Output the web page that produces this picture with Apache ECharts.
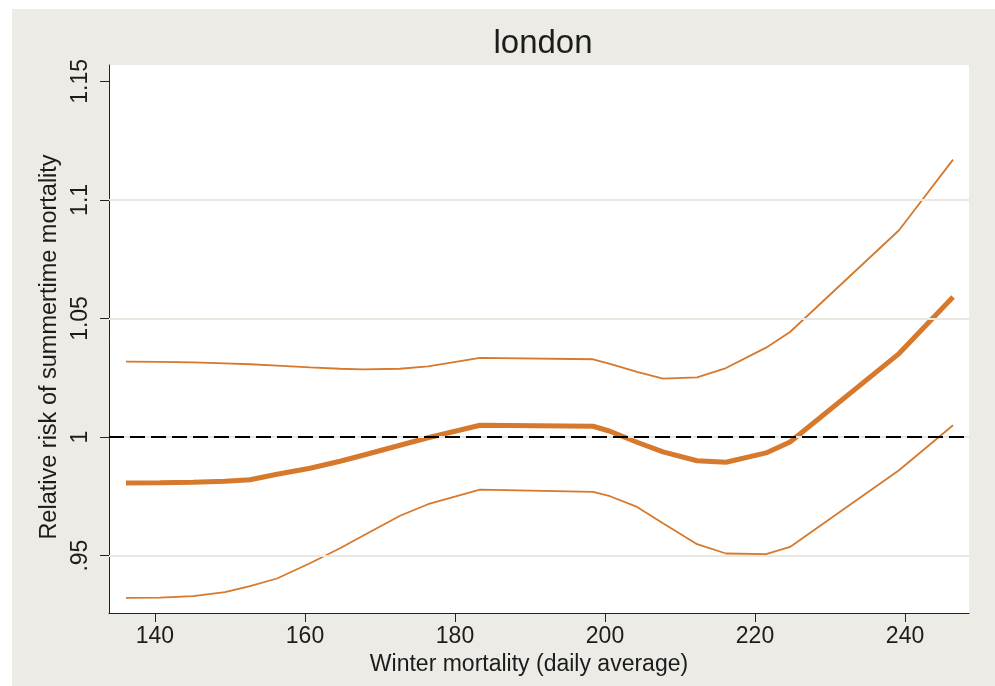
<!DOCTYPE html>
<html>
<head>
<meta charset="utf-8">
<script src="https://cdn.jsdelivr.net/npm/echarts@6/dist/echarts.min.js"></script>
<style>
  html, body { margin: 0; padding: 0; background: #ffffff; }
  #frame { position: absolute; left: 12px; top: 9px; width: 983px; height: 677px; background: #ecebe5; }
  #chart { position: absolute; left: 0; top: 0; width: 995px; height: 686px; }
</style>
</head>
<body>
<div id="frame"></div>
<div id="chart"></div>
<script>
// Winter mortality (daily average) at which the curves are evaluated
const winterMortality = [136.13, 140.67, 145.07, 149.33, 152.67, 156.27, 160.67, 164.67, 167.73, 172.67,
  176.4, 183.33, 198.4, 200.67, 204.27, 207.73, 212.27, 216.13, 221.47, 224.67, 239.2, 246.4];

// Relative risk of summertime mortality: upper bound, estimate, lower bound
const rrUpper = [1.0318, 1.0317, 1.0315, 1.0311, 1.0307, 1.0301, 1.0294, 1.0288, 1.0285, 1.0288,
  1.0298, 1.0334, 1.0328, 1.0309, 1.0275, 1.0246, 1.0252, 1.0291, 1.0377, 1.0443, 1.0872, 1.1170];
const rrEstimate = [0.98065, 0.98073, 0.98094, 0.98137, 0.98200, 0.98432, 0.98685, 0.98980, 0.99233, 0.99654,
  0.99970, 1.00497, 1.00455, 1.00245, 0.99781, 0.99372, 0.99001, 0.98938, 0.99330, 0.99793, 1.03520, 1.05906];
const rrLower = [0.93217, 0.93225, 0.93288, 0.93457, 0.93710, 0.94035, 0.94680, 0.95312, 0.95835, 0.96682,
  0.97167, 0.97787, 0.97686, 0.97504, 0.97053, 0.96366, 0.95481, 0.95089, 0.95059, 0.95367, 0.98600, 1.00497];

// Axis ticks and reference levels
const xTicks = [140, 160, 180, 200, 220, 240];
const yTicks = [0.95, 1, 1.05, 1.1, 1.15];
const yGridLines = [0.95, 1, 1.05, 1.1];
const referenceRisk = 1;

const ORANGE = '#d6792c';
const TEXT = '#1c1c1c';
const FONT = '"Liberation Sans", Arial, Helvetica, sans-serif';

const pairs = ys => winterMortality.map((x, i) => [x, ys[i]]);
const yFmt = v => {
  const s = String(+v.toFixed(2));
  return s.startsWith('0.') ? s.slice(1) : s;
};

const chart = echarts.init(document.getElementById('chart'), null, { renderer: 'canvas' });

chart.setOption({
  animation: false,
  backgroundColor: 'transparent',
  textStyle: { fontFamily: FONT },
  title: {
    text: 'london',
    left: 538,
    top: 22,
    textAlign: 'center',
    textStyle: { fontFamily: FONT, fontSize: 33, fontWeight: 'normal', color: TEXT }
  },
  grid: {
    left: 109, right: 26, top: 65, bottom: 73,
    show: true, backgroundColor: '#ffffff', borderWidth: 0
  },
  xAxis: {
    type: 'value',
    min: 133.87,
    max: 248.53,
    name: 'Winter mortality (daily average)',
    nameLocation: 'middle',
    nameGap: 40,
    nameTextStyle: { fontFamily: FONT, fontSize: 23, color: TEXT, padding: [0, 20, 0, 0] },
    axisLine: { show: true, onZero: false, lineStyle: { color: '#222', width: 1 } },
    axisTick: { show: true, length: 9, customValues: xTicks, lineStyle: { color: '#222', width: 1 } },
    axisLabel: { customValues: xTicks, margin: 12, fontFamily: FONT, fontSize: 23, color: TEXT },
    splitLine: { show: false }
  },
  yAxis: {
    type: 'value',
    min: 0.9258,
    max: 1.1569,
    name: 'Relative risk of summertime mortality',
    nameLocation: 'middle',
    nameGap: 42,
    nameTextStyle: { fontFamily: FONT, fontSize: 23.5, color: TEXT, padding: [0, 16, 0, 0] },
    axisLine: { show: true, onZero: false, lineStyle: { color: '#222', width: 1 } },
    axisTick: { show: true, length: 9, customValues: yTicks, lineStyle: { color: '#222', width: 1 } },
    axisLabel: { customValues: yTicks, rotate: 90, margin: 17, fontFamily: FONT, fontSize: 23, color: TEXT, formatter: yFmt },
    splitLine: { show: false }
  },
  series: [
    {
      // light horizontal grid lines
      type: 'line', data: [], z: 1, silent: true,
      markLine: {
        silent: true, symbol: 'none', label: { show: false },
        lineStyle: { color: '#e9e8e0', width: 2, type: 'solid' },
        data: yGridLines.map(v => ({ yAxis: v }))
      }
    },
    {
      // dashed no-effect reference line
      type: 'line', data: [], z: 2, silent: true,
      markLine: {
        silent: true, symbol: 'none', label: { show: false },
        lineStyle: { color: '#000000', width: 2, type: [15, 6] },
        data: [{ yAxis: referenceRisk }]
      }
    },
    {
      name: 'upper', type: 'line', z: 3, data: pairs(rrUpper),
      symbol: 'none', lineStyle: { color: ORANGE, width: 1.8 }
    },
    {
      name: 'estimate', type: 'line', z: 3, data: pairs(rrEstimate),
      symbol: 'none', lineStyle: { color: ORANGE, width: 5 }
    },
    {
      name: 'lower', type: 'line', z: 3, data: pairs(rrLower),
      symbol: 'none', lineStyle: { color: ORANGE, width: 1.8 }
    }
  ]
});
</script>
</body>
</html>
